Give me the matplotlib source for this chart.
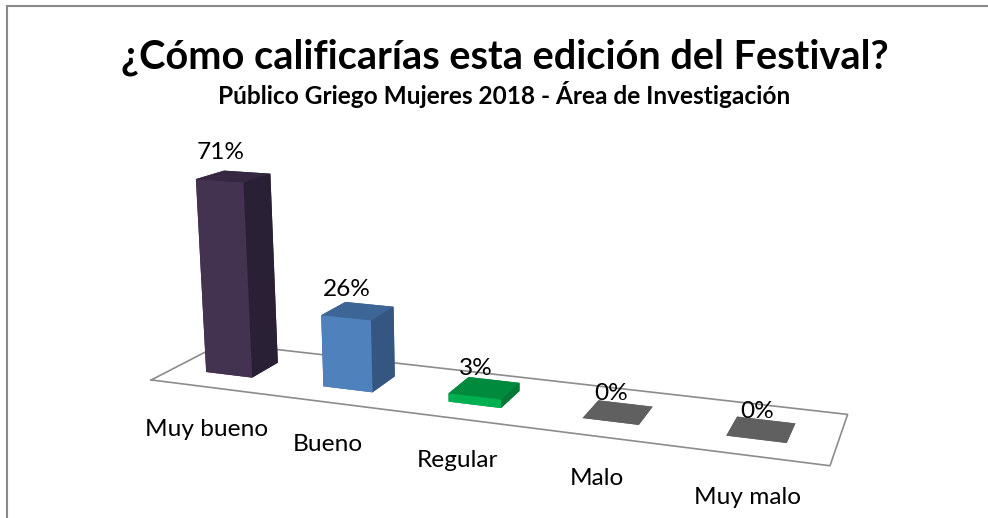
import matplotlib
matplotlib.use("Agg")
from matplotlib import pyplot as plt
from matplotlib.patches import Rectangle
from mpl_toolkits.mplot3d import proj3d

plt.rcParams['font.family'] = ['Lato', 'DejaVu Sans']

categories = ["Muy bueno", "Bueno", "Regular", "Malo", "Muy malo"]
values = [71, 26, 3, 0, 0]
labels = ["71%", "26%", "3%", "0%", "0%"]
front_colors = ["#433250", "#4F81BD", "#00B050", "#606060", "#606060"]
side_colors = ["#2A2035", "#345680", "#007A37", "#606060", "#606060"]
top_colors = ["#352840", "#3D6596", "#008A3E", "#606060", "#606060"]

bar_w = 0.3999
bar_d = 0.3914
bar_x = 0.4841

fig = plt.figure(figsize=(9.88, 5.18), dpi=100)
# frame runs off the right and bottom of the picture
fig.add_artist(Rectangle((7/988, -0.1), 1.1, 1.1 - 6/518, fill=False, edgecolor="#8a8a8a", linewidth=1.5))

fig.text(504.5/988, 1 - 57/518, "¿Cómo calificarías esta edición del Festival?", fontsize=28.6, fontweight="bold", ha="center", va="center")
fig.text(504.5/988, 1 - 95/518, "Público Griego Mujeres 2018 - Área de Investigación", fontsize=17.6, fontweight="bold", ha="center", va="center")

# view fitted against the corners of the floor and bars
ax = fig.add_axes([112.06/988, -147.58/518, 729.20/988, 729.20/518], projection="3d", computed_zorder=False)
ax.patch.set_alpha(0)
ax.set_xlim(0, 5)
ax.set_ylim(0, 1)
ax.set_zlim(0, 75)
ax.view_init(elev=14.4793, azim=-69.7369, roll=-0.0065)
ax.set_proj_type("persp", focal_length=0.3498)
ax.set_box_aspect((4, 0.8205, 1.2641))
ax.set_axis_off()

ax.plot([0, 5, 5, 0, 0], [0, 0, 1, 1, 0], [0, 0, 0, 0, 0], color="#8c8c8c", lw=1.2, zorder=1, clip_on=False)

M = ax.get_proj()

def put_text(x, y, z, text, dx, dy):
    u, v, _ = proj3d.proj_transform(x, y, z, M)
    ax.annotate(text, xy=(u, v), xytext=(dx, dy), textcoords="offset pixels", fontsize=17.6,
                ha="center", va="center", zorder=10, annotation_clip=False)

for i, v in enumerate(values):
    # bar3d face order: bottom, top, front, back, left, right
    face_colors = [top_colors[i], top_colors[i], front_colors[i], side_colors[i], side_colors[i], side_colors[i]]
    bars = ax.bar3d(i + bar_x - bar_w / 2, 0.5 - bar_d / 2, 0, bar_w, bar_d, v, color=face_colors, shade=False, zorder=2 + i)
    bars.set_clip_on(False)
    put_text(i + bar_x, 0.5 - bar_d / 2, v, labels[i], 1, 28)
    put_text(i + bar_x, 0, 0, categories[i], -1, -42)

fig.savefig("out.png", dpi=100)
